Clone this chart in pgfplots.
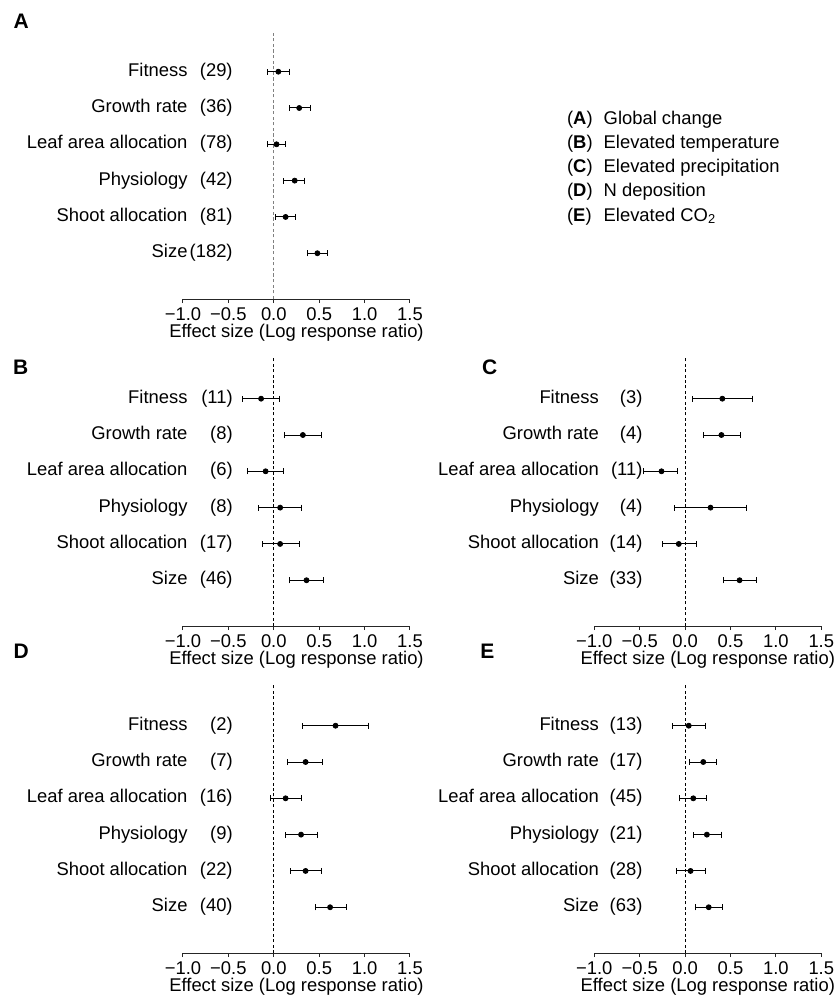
\documentclass[border=0pt]{standalone}
\usepackage{fontspec}
\setmainfont{Liberation Sans}
\usepackage{pgfplots}
\usepackage{pgfplotstable}
\pgfplotsset{compat=1.18}

\pgfplotstableread{
y lo m hi
6 -0.07 0.05 0.17
5 0.17 0.28 0.40
4 -0.07 0.03 0.13
3 0.11 0.23 0.34
2 0.02 0.13 0.24
1 0.37 0.48 0.59
}\dataA
\pgfplotstableread{
y lo m hi
6 -0.34 -0.14 0.06
5 0.12 0.32 0.52
4 -0.29 -0.09 0.11
3 -0.17 0.07 0.30
2 -0.12 0.07 0.28
1 0.17 0.36 0.55
}\dataB
\pgfplotstableread{
y lo m hi
6 0.08 0.41 0.74
5 0.20 0.40 0.61
4 -0.46 -0.26 -0.08
3 -0.12 0.28 0.68
2 -0.25 -0.07 0.12
1 0.42 0.60 0.79
}\dataC
\pgfplotstableread{
y lo m hi
6 0.32 0.68 1.04
5 0.15 0.35 0.54
4 -0.04 0.13 0.31
3 0.13 0.30 0.48
2 0.18 0.35 0.53
1 0.46 0.62 0.80
}\dataD
\pgfplotstableread{
y lo m hi
6 -0.14 0.04 0.22
5 0.05 0.20 0.35
4 -0.06 0.09 0.24
3 0.09 0.24 0.40
2 -0.10 0.06 0.22
1 0.11 0.26 0.41
}\dataE

\tikzset{lab/.style={anchor=base east, inner sep=0pt, yshift=-2.25pt},
  letter/.style={anchor=west, inner sep=0pt, font=\fontsize{10.5}{12}\selectfont\bfseries}}
\pgfplotsset{
  forest/.style={
    scale only axis, width=113.5pt, height=134pt,
    xmin=-1, xmax=1.5, ymin=-0.26, ymax=7.12,
    axis x line=bottom, axis y line=none,
    x axis line style={-, line width=0.5pt, black!85},
    xtick={-1,-0.5,0,0.5,1,1.5},
    xticklabels={−1.0,−0.5,0.0,0.5,1.0,1.5},
    xtick align=outside, major tick length=2pt,
    every tick/.style={line width=0.5pt, black!85},
    xticklabel style={anchor=base, inner sep=0pt, yshift=-8.8pt},
    xlabel={Effect size (Log response ratio)},
    xlabel style={at={(axis description cs:0.5,0)}, anchor=base, inner sep=0pt, yshift=-19.3pt},
    clip=false,
  },
}
\newcommand{\forestplot}[1]{%
  \addplot[black, only marks, mark=*, mark size=1.25pt,
    error bars/.cd, x dir=both, x explicit,
    error bar style={line width=0.5pt, black},
    error mark options={rotate=90, black, line width=0.5pt, mark size=1.5pt}]
    table[x=m, y=y, x error plus expr=\thisrow{hi}-\thisrow{m}, x error minus expr=\thisrow{m}-\thisrow{lo}] {#1};
}
\newcommand{\catlabels}[7]{%
  \node[lab] at (axis cs:-0.946,6) {Fitness};
  \node[lab] at (axis cs:-0.946,5) {Growth rate};
  \node[lab] at (axis cs:-0.946,4) {Leaf area allocation};
  \node[lab] at (axis cs:-0.946,3) {Physiology};
  \node[lab] at (axis cs:-0.946,2) {Shoot allocation};
  \node[lab] at (axis cs:-0.946,1) {Size};
  \node[lab] at (axis cs:#1,6) {(#2)};
  \node[lab] at (axis cs:#1,5) {(#3)};
  \node[lab] at (axis cs:#1,4) {(#4)};
  \node[lab] at (axis cs:#1,3) {(#5)};
  \node[lab] at (axis cs:#1,2) {(#6)};
  \node[lab] at (axis cs:#1,1) {(#7)};
}

\begin{document}
\fontsize{9.2}{11}\selectfont
\begin{tikzpicture}
\useasboundingbox (0,0) rectangle (418pt,-498pt);

% Panel A
\begin{axis}[forest, at={(91.5pt,-149.5pt)}, anchor=south west]
  \addplot[gray, line width=0.5pt, dash pattern=on 1.6pt off 1.2pt] coordinates {(0,-0.26) (0,7.12)};
  \forestplot{\dataA}
  \catlabels{-0.449}{29}{36}{78}{42}{81}{182}
\end{axis}

% Panel B
\begin{axis}[forest, at={(91.5pt,-313pt)}, anchor=south west]
  \addplot[black, line width=0.4pt, dash pattern=on 1.5pt off 1.2pt] coordinates {(0,-0.26) (0,7.12)};
  \forestplot{\dataB}
  \catlabels{-0.449}{11}{8}{6}{8}{17}{46}
\end{axis}

% Panel C
\begin{axis}[forest, at={(297.15pt,-313pt)}, anchor=south west]
  \addplot[black, line width=0.4pt, dash pattern=on 1.5pt off 1.2pt] coordinates {(0,-0.26) (0,7.12)};
  \forestplot{\dataC}
  \catlabels{-0.466}{3}{4}{11}{4}{14}{33}
\end{axis}

% Panel D
\begin{axis}[forest, at={(91.5pt,-476.5pt)}, anchor=south west]
  \addplot[black, line width=0.4pt, dash pattern=on 1.5pt off 1.2pt] coordinates {(0,-0.26) (0,7.12)};
  \forestplot{\dataD}
  \catlabels{-0.449}{2}{7}{16}{9}{22}{40}
\end{axis}

% Panel E
\begin{axis}[forest, at={(297.15pt,-476.5pt)}, anchor=south west]
  \addplot[black, line width=0.4pt, dash pattern=on 1.5pt off 1.2pt] coordinates {(0,-0.26) (0,7.12)};
  \forestplot{\dataE}
  \catlabels{-0.466}{13}{17}{45}{21}{28}{63}
\end{axis}

% panel letters
\node[letter] at (6.65pt,-10.4pt) {A};
\node[letter] at (6.35pt,-183.5pt) {B};
\node[letter] at (240.85pt,-183.5pt) {C};
\node[letter] at (6.65pt,-325.85pt) {D};
\node[letter] at (240pt,-325.85pt) {E};

% legend of panels
\node[anchor=base west, inner sep=0pt] at (283.35pt,-62pt) {(\textbf{A})};
\node[anchor=base west, inner sep=0pt] at (301.65pt,-62pt) {Global change};
\node[anchor=base west, inner sep=0pt] at (283.35pt,-74.15pt) {(\textbf{B})};
\node[anchor=base west, inner sep=0pt] at (301.65pt,-74.15pt) {Elevated temperature};
\node[anchor=base west, inner sep=0pt] at (283.35pt,-86.3pt) {(\textbf{C})};
\node[anchor=base west, inner sep=0pt] at (301.65pt,-86.3pt) {Elevated precipitation};
\node[anchor=base west, inner sep=0pt] at (283.35pt,-98.45pt) {(\textbf{D})};
\node[anchor=base west, inner sep=0pt] at (301.65pt,-98.45pt) {N deposition};
\node[anchor=base west, inner sep=0pt] at (283.35pt,-110.6pt) {(\textbf{E})};
\node[anchor=base west, inner sep=0pt] at (301.65pt,-110.6pt) {Elevated CO\textsubscript{2}};
\end{tikzpicture}
\end{document}
